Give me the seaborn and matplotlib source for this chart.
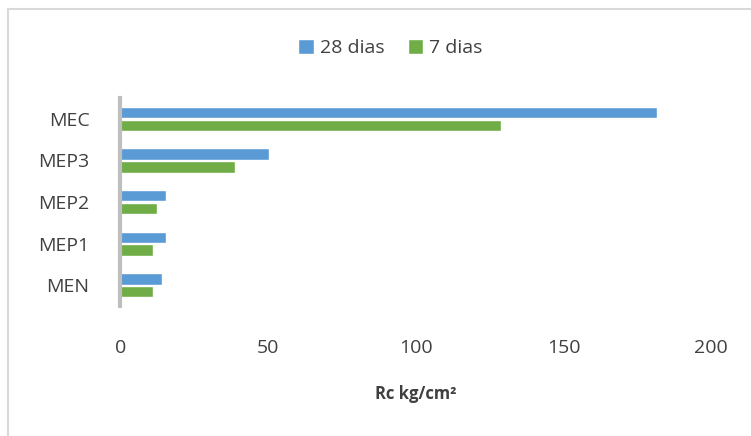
import seaborn as sns
import matplotlib.pyplot as plt
import pandas as pd
from matplotlib.patches import Rectangle

# data
mezclas = ["MEC", "MEP3", "MEP2", "MEP1", "MEN"]
rc_28 = [181.5, 50.5, 15.5, 15.5, 14.0]
rc_7 = [129.0, 39.0, 12.5, 11.0, 11.0]
series = ["28 dias", "7 dias"]

df = pd.DataFrame({
    "mezcla": mezclas * 2,
    "rc": rc_28 + rc_7,
    "edad": [series[0]] * len(mezclas) + [series[1]] * len(mezclas),
})

sns.set_theme(style="white")
plt.rcParams["font.family"] = ["Open Sans", "DejaVu Sans"]

fig = plt.figure(figsize=(7.51, 4.36), dpi=100)
ax = fig.add_axes([0.16, 0.298, 0.787, 0.477])

sns.barplot(data=df, x="rc", y="mezcla", hue="edad", order=mezclas,
            hue_order=series, palette=["#5B9BD5", "#70AD47"], saturation=1,
            orient="h", width=0.62, gap=0.12, ax=ax)

ax.set_xlim(0, 200)
ax.set_xticks([0, 50, 100, 150, 200])
ax.tick_params(axis="x", length=0, pad=24, labelsize=14, labelcolor="#404040")
ax.tick_params(axis="y", length=0, pad=22, labelsize=14, labelcolor="#404040")
ax.set_ylabel("")
ax.set_xlabel("Rc kg/cm²", fontsize=12, fontweight="bold", color="#404040", labelpad=20)

for s in ["top", "right", "bottom"]:
    ax.spines[s].set_visible(False)
ax.spines["left"].set_color("#BFBFBF")
ax.spines["left"].set_linewidth(3)

ax.legend(loc="upper center", bbox_to_anchor=(0.52, 0.95), bbox_transform=fig.transFigure,
          ncol=2, frameon=False, fontsize=14, handlelength=0.8, handleheight=0.8,
          handletextpad=0.3, columnspacing=1.2, labelcolor="#404040")

# chart frame
fig.patches.append(Rectangle((0.011, -0.05), 1.2, 1.03, transform=fig.transFigure,
                             fill=False, edgecolor="#D9D9D9", linewidth=1.5))

fig.savefig("out.png", dpi=100)
